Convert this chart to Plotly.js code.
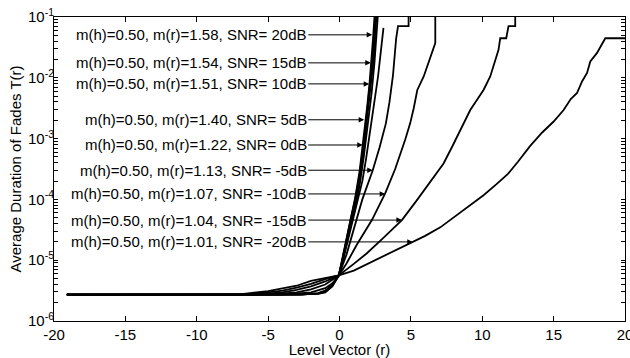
<!DOCTYPE html>
<html><head><meta charset="utf-8">
<script src="https://cdn.plot.ly/plotly-3.0.1.min.js"></script>
<style>html,body{margin:0;padding:0;background:#fff}#chart{width:630px;height:358px}</style>
</head><body><div id="chart"></div>
<script>
// Level vector r and average fade duration T(r) for each SNR case
const r_20dB = [-19.1,-3,-1.5,-1,-0.5,-0.05,0.2,0.5,0.8,1.1,1.4,1.7,1.95,2.1,2.25,2.35,2.45];
const T_20dB = [2.72e-6,2.72e-6,2.79e-6,2.95e-6,3.72e-6,5.62e-6,1.05e-5,2.51e-5,5.25e-5,1.07e-4,2.82e-4,1.0e-3,3.55e-3,7.94e-3,2.0e-2,4.47e-2,0.1];

const r_15dB = [-19.1,-3,-1.5,-1,-0.5,-0.05,0.2,0.5,0.8,1.1,1.4,1.7,1.95,2.1,2.3,2.45,2.52];
const T_15dB = [2.72e-6,2.72e-6,2.82e-6,3.02e-6,3.80e-6,5.62e-6,1.02e-5,2.40e-5,4.90e-5,1.0e-4,2.51e-4,8.32e-4,2.82e-3,6.03e-3,1.91e-2,5.01e-2,0.1];

const r_10dB = [-19.1,-2.8,-1.5,-1,-0.5,-0.05,0.2,0.5,0.8,1.1,1.4,1.7,2.0,2.2,2.38,2.5,2.58];
const T_10dB = [2.72e-6,2.72e-6,2.85e-6,3.09e-6,3.89e-6,5.62e-6,1.0e-5,2.24e-5,4.47e-5,8.91e-5,2.19e-4,6.92e-4,2.82e-3,6.61e-3,1.91e-2,4.68e-2,0.1];

const r_5dB = [-19.1,-2.6,-1.5,-1,-0.5,-0.05,0.2,0.5,0.8,1.1,1.4,1.7,2.0,2.25,2.45,2.6,2.68];
const T_5dB = [2.72e-6,2.72e-6,2.88e-6,3.16e-6,3.98e-6,5.62e-6,9.55e-6,2.0e-5,3.80e-5,7.41e-5,1.66e-4,5.01e-4,1.78e-3,5.62e-3,1.78e-2,4.68e-2,0.1];

const r_0dB = [-19.1,-4,-2,-1,-0.5,-0.05,0.3,0.75,1.3,1.6,1.85,2.05,2.27,2.5,2.7,2.9,3.08];
const T_0dB = [2.72e-6,2.72e-6,2.95e-6,3.47e-6,4.17e-6,5.62e-6,1.12e-5,3.16e-5,1.0e-4,2.0e-4,4.47e-4,1.0e-3,2.24e-3,5.01e-3,1.05e-2,2.82e-2,6.61e-2];

const r_m5dB = [-19.1,-5,-3,-2,-1,-0.05,0.5,1.0,1.6,2.33,2.8,3.25,3.5,3.75,3.97,4.1,4.84,4.84];
const T_m5dB = [2.72e-6,2.72e-6,2.95e-6,3.31e-6,3.98e-6,5.62e-6,1.26e-5,3.16e-5,1.0e-4,3.02e-4,7.08e-4,1.78e-3,3.98e-3,1.12e-2,4.47e-2,7.08e-2,7.08e-2,0.1];

const r_m10dB = [-19.1,-6,-4,-3,-2,-1,-0.05,0.5,1.2,2.27,3.2,3.9,4.6,4.95,5.2,5.45,5.9,6.24,6.59,6.71,6.71];
const T_m10dB = [2.72e-6,2.72e-6,2.95e-6,3.24e-6,3.72e-6,4.47e-6,5.62e-6,8.91e-6,1.78e-5,4.57e-5,1.26e-4,3.16e-4,9.55e-4,1.78e-3,3.16e-3,6.31e-3,1.05e-2,1.74e-2,2.88e-2,3.72e-2,0.1];

const r_m15dB = [-19.1,-7,-5,-4,-3,-2,-1,-0.05,1.0,1.9,3.0,4.37,5.4,6.36,7.29,7.9,8.46,9.16,10.09,10.56,11.14,11.26,11.68,11.77,11.84,12.31,12.31];
const T_m15dB = [2.72e-6,2.72e-6,2.95e-6,3.16e-6,3.55e-6,4.07e-6,4.90e-6,5.62e-6,8.71e-6,1.29e-5,2.24e-5,4.57e-5,9.55e-5,1.95e-4,3.89e-4,7.41e-4,1.38e-3,2.95e-3,6.31e-3,1.05e-2,2.88e-2,4.47e-2,4.47e-2,6.17e-2,7.08e-2,7.08e-2,0.1];

const r_m20dB = [-19.1,-7,-5,-4,-3,-2,-1,-0.05,1.0,2.15,3.5,5.13,6.0,7.06,8.0,8.9,10.09,11.0,11.8,12.5,13.36,14.2,15.0,15.7,16.2,16.64,16.99,17.34,17.57,18.04,18.27,18.62,20];
const T_m20dB = [2.72e-6,2.75e-6,3.09e-6,3.39e-6,3.80e-6,4.57e-6,5.13e-6,5.62e-6,6.76e-6,9.12e-6,1.29e-5,1.95e-5,2.51e-5,3.47e-5,5.01e-5,7.24e-5,1.17e-4,1.78e-4,2.63e-4,4.17e-4,7.59e-4,1.26e-3,1.91e-3,2.95e-3,4.47e-3,5.62e-3,8.71e-3,1.20e-2,1.86e-2,2.57e-2,3.24e-2,4.47e-2,4.47e-2];

// Labels and where their arrows point
const labels = [
  "m(h)=0.50, m(r)=1.58, SNR= 20dB",
  "m(h)=0.50, m(r)=1.54, SNR= 15dB",
  "m(h)=0.50, m(r)=1.51, SNR= 10dB",
  "m(h)=0.50, m(r)=1.40, SNR= 5dB",
  "m(h)=0.50, m(r)=1.22, SNR= 0dB",
  "m(h)=0.50, m(r)=1.13, SNR= -5dB",
  "m(h)=0.50, m(r)=1.07, SNR= -10dB",
  "m(h)=0.50, m(r)=1.04, SNR= -15dB",
  "m(h)=0.50, m(r)=1.01, SNR= -20dB"
];
const labelT = [5.09e-2,1.76e-2,7.94e-3,2.04e-3,7.85e-4,3.02e-4,1.23e-4,4.57e-5,2.0e-5];
const arrowTipR = [2.29,2.19,2.08,1.73,1.63,2.33,3.2,4.37,5.13];
const labelEndR = -2.19;

const xTickVals = [-20,-15,-10,-5,0,5,10,15,20];
const xTickText = ["-20","-15","-10","-5","0","5","10","15","20"];
const yMajorVals = [1e-6,1e-5,1e-4,1e-3,1e-2,1e-1];
const yMajorText = ["10<sup>-6</sup>","10<sup>-5</sup>","10<sup>-4</sup>","10<sup>-3</sup>","10<sup>-2</sup>","10<sup>-1</sup>"];

const series = [
  [r_20dB,T_20dB],[r_15dB,T_15dB],[r_10dB,T_10dB],[r_5dB,T_5dB],[r_0dB,T_0dB],
  [r_m5dB,T_m5dB],[r_m10dB,T_m10dB],[r_m15dB,T_m15dB],[r_m20dB,T_m20dB]
];
const traces = series.map((s,i)=>({
  x:s[0], y:s[1], type:'scatter', mode:'lines', name:labels[i],
  line:{color:'#000', width:1.8}, hoverinfo:'skip', showlegend:false
}));

// y ticks: decades labelled, 2..9 multiples unlabelled (log minor ticks)
const yTickVals = [], yTickText = [];
yMajorVals.forEach((v,i)=>{
  yTickVals.push(v); yTickText.push(yMajorText[i]);
  if (i < yMajorVals.length-1) for (let k=2; k<=9; k++){ yTickVals.push(k*v); yTickText.push(''); }
});

const font = "'Liberation Sans', Arial, Helvetica, sans-serif";
const annotations = labels.map((t,i)=>({
  x: arrowTipR[i], y: Math.log10(labelT[i]), xref:'x', yref:'y',
  ax: labelEndR, ay: Math.log10(labelT[i]), axref:'x', ayref:'y',
  text: t, showarrow:true, arrowhead:2, arrowsize:1.1, arrowwidth:1, arrowcolor:'#000',
  xanchor:'right', yanchor:'middle', font:{family:font, size:15, color:'#000'}, borderpad:0
}));

const layout = {
  width:630, height:358,
  margin:{l:54, r:5, t:17, b:37},
  paper_bgcolor:'#fff', plot_bgcolor:'#fff',
  font:{family:font, size:15, color:'#000'},
  showlegend:false,
  xaxis:{
    range:[-20,20], tickmode:'array', tickvals:xTickVals, ticktext:xTickText,
    ticks:'inside', ticklen:5, tickcolor:'#000', showline:true, linecolor:'#000', linewidth:1,
    mirror:'ticks', showgrid:false, zeroline:false, ticklabeloverflow:'allow',
    title:{text:'Level Vector (r)', font:{family:font, size:15}, standoff:0},
    tickfont:{family:font, size:15}
  },
  yaxis:{
    type:'log', range:[-6,-1], tickmode:'array', tickvals:yTickVals, ticktext:yTickText,
    ticks:'inside', ticklen:4, tickcolor:'#000', showline:true, linecolor:'#000', linewidth:1,
    mirror:'ticks', showgrid:false, zeroline:false, ticklabelstandoff:-4,
    title:{text:'Average Duration of Fades T(r)', font:{family:font, size:15}, standoff:2},
    tickfont:{family:font, size:15}
  },
  annotations:annotations
};
Plotly.newPlot('chart', traces, layout, {staticPlot:true, displayModeBar:false});
</script>
</body></html>
